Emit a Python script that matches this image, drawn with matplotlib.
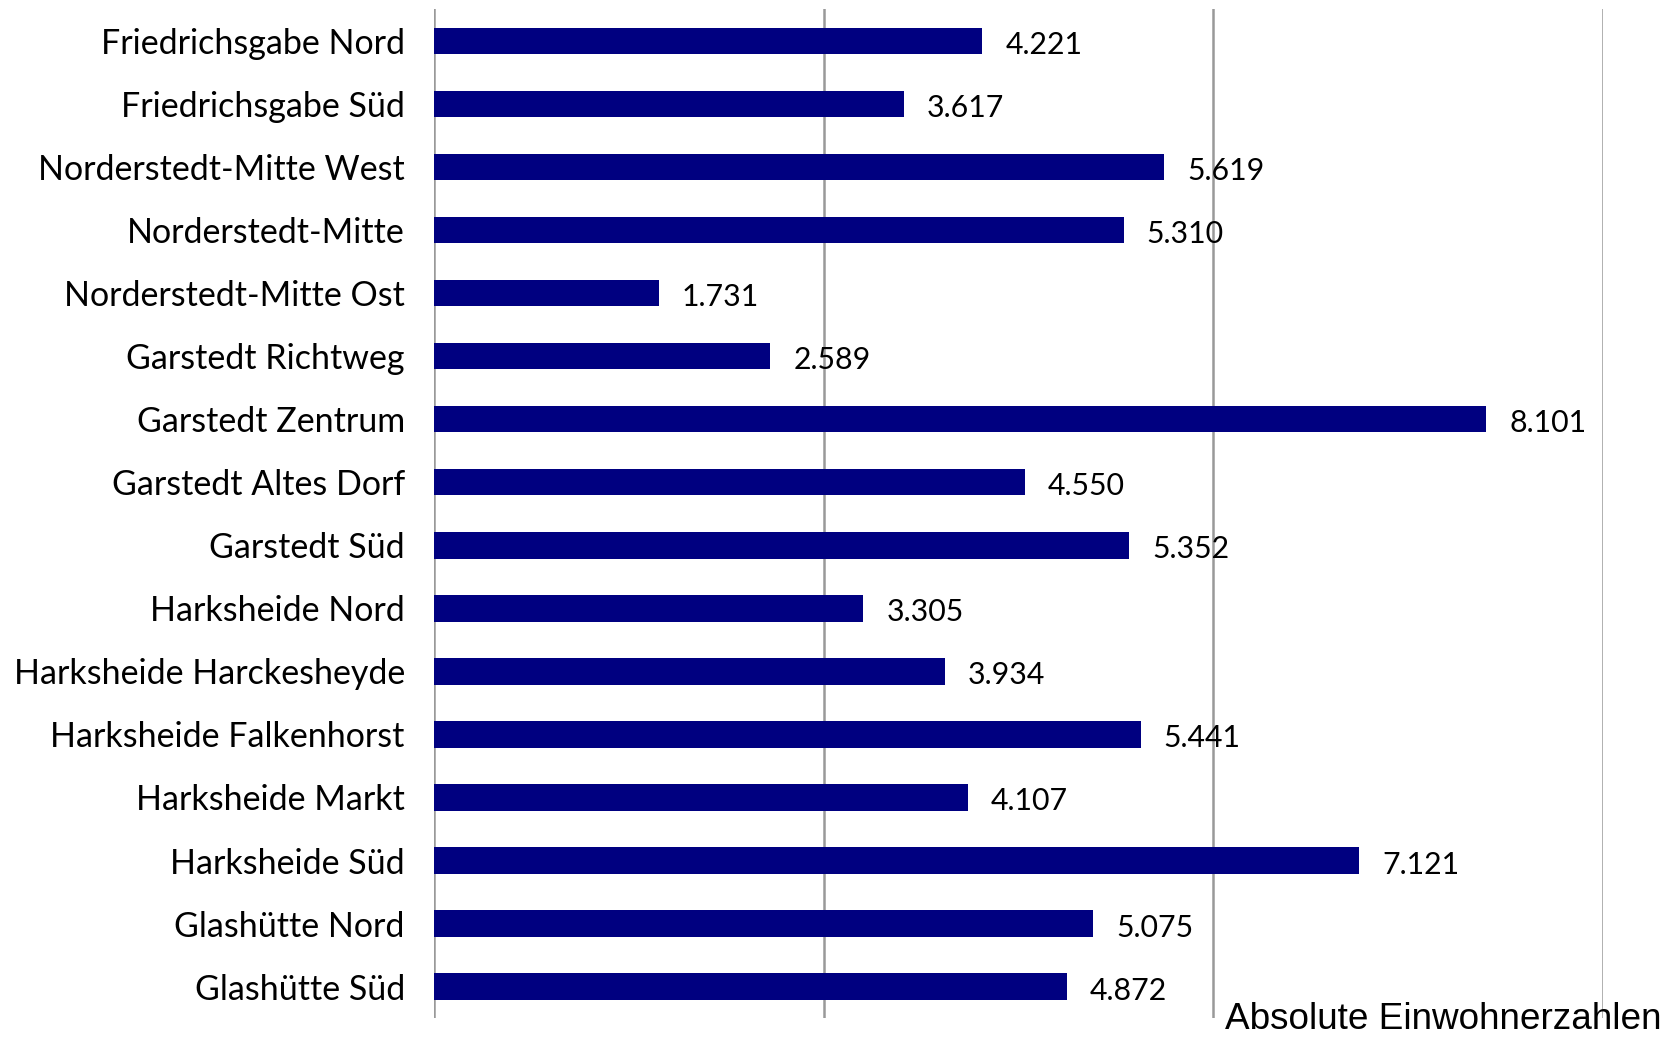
import matplotlib
matplotlib.use("Agg")
import matplotlib.pyplot as plt

categories = ["Friedrichsgabe Nord", "Friedrichsgabe Süd", "Norderstedt-Mitte West",
              "Norderstedt-Mitte", "Norderstedt-Mitte Ost", "Garstedt Richtweg",
              "Garstedt Zentrum", "Garstedt Altes Dorf", "Garstedt Süd",
              "Harksheide Nord", "Harksheide Harckesheyde", "Harksheide Falkenhorst",
              "Harksheide Markt", "Harksheide Süd", "Glashütte Nord", "Glashütte Süd"]
values = [4221, 3617, 5619, 5310, 1731, 2589, 8101, 4550, 5352,
          3305, 3934, 5441, 4107, 7121, 5075, 4872]
value_labels = ["4.221", "3.617", "5.619", "5.310", "1.731", "2.589", "8.101", "4.550", "5.352",
                "3.305", "3.934", "5.441", "4.107", "7.121", "5.075", "4.872"]
grid_ticks = [0, 3000, 6000, 9000]
title = "Absolute Einwohnerzahlen"

fig = plt.figure(figsize=(16.77, 10.40), dpi=100)
ax = fig.add_axes([0.2588, 0.021, 0.956 - 0.2588, 0.991 - 0.021])

y = list(range(len(categories)))
ax.barh(y, values, height=0.42, color="#000080", zorder=3)
ax.set_ylim(len(categories) - 0.5, -0.5)
ax.set_xlim(0, 9000)
ax.set_xticks(grid_ticks)
ax.set_xticklabels([])
ax.tick_params(axis="x", length=0)
ax.tick_params(axis="y", length=0, pad=21)
ax.grid(axis="x", color="#999999", linewidth=1.8, zorder=0)
for s in ax.spines.values():
    s.set_visible(False)
ax.set_yticks(y)
ax.set_yticklabels(categories, fontsize=24.5, family="Lato")

for yi, v, lab in zip(y, values, value_labels):
    ax.annotate(lab, (v, yi), xytext=(23, -4), textcoords="offset pixels",
                va="center", ha="left", fontsize=21.8, family="Lato")

fig.text(0.991, 0.003, title, ha="right", va="bottom", fontsize=26.6, family="Liberation Sans")

fig.savefig("out.png", dpi=100)
